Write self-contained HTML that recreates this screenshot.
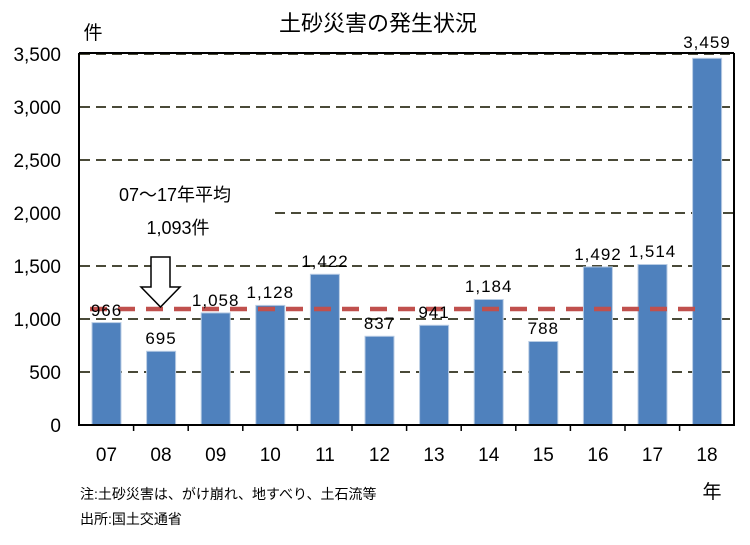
<!DOCTYPE html>
<html><head><meta charset="utf-8"><style>
body{margin:0;background:#fff}
text{font-family:"Liberation Sans","Noto Sans CJK JP",sans-serif;fill:#000}
</style></head><body>
<svg width="750" height="540" viewBox="0 0 750 540" xmlns="http://www.w3.org/2000/svg">
<rect width="750" height="540" fill="#fff"/>
<text x="378" y="31" font-size="22" text-anchor="middle">土砂災害の発生状況</text>
<text x="93" y="39" font-size="19" text-anchor="middle">件</text>
<g stroke="#4a4a38" stroke-width="2" stroke-dasharray="10,6">
<line x1="80" y1="54" x2="734" y2="54"/>
<line x1="80" y1="107" x2="734" y2="107"/>
<line x1="80" y1="160" x2="734" y2="160"/>
<line x1="275" y1="213" x2="734" y2="213"/>
<line x1="80" y1="266" x2="734" y2="266"/>
<line x1="80" y1="319" x2="734" y2="319"/>
<line x1="80" y1="372" x2="734" y2="372"/>
</g>
<g fill="#4f81bd" stroke="#b8cce4" stroke-width="1">
<rect x="92" y="322.6" width="29" height="102.4"/>
<rect x="146.6" y="351.3" width="29" height="73.7"/>
<rect x="201.2" y="312.9" width="29" height="112.1"/>
<rect x="255.8" y="305.4" width="29" height="119.6"/>
<rect x="310.4" y="274.3" width="29" height="150.7"/>
<rect x="365" y="336.3" width="29" height="88.7"/>
<rect x="419.6" y="325.3" width="29" height="99.7"/>
<rect x="474.2" y="299.5" width="29" height="125.5"/>
<rect x="528.8" y="341.5" width="29" height="83.5"/>
<rect x="583.4" y="266.9" width="29" height="158.1"/>
<rect x="638" y="264.5" width="29" height="160.5"/>
<rect x="692.6" y="58.3" width="29" height="366.7"/>
</g>
<line x1="90" y1="309" x2="705" y2="309" stroke="#c0504d" stroke-width="4.5" stroke-dasharray="17,11"/>
<polygon points="151,257 170,257 170,287 180,287 160.5,307 141,287 151,287" fill="#fff" stroke="#000" stroke-width="1.5"/>
<text x="175" y="201" font-size="18" text-anchor="middle">07～17年平均</text>
<text x="178" y="234" font-size="18" text-anchor="middle">1,093件</text>
<g stroke="#000" stroke-width="2" fill="none">
<line x1="79" y1="53" x2="79" y2="426"/>
<line x1="78" y1="425" x2="735" y2="425"/>
<line x1="734" y1="53" x2="734" y2="426"/>
<line x1="79" y1="53" x2="734" y2="53"/>
</g>
<g stroke="#000" stroke-width="1.5">
<line x1="133.6" y1="425" x2="133.6" y2="431"/><line x1="188.2" y1="425" x2="188.2" y2="431"/>
<line x1="242.8" y1="425" x2="242.8" y2="431"/><line x1="297.4" y1="425" x2="297.4" y2="431"/>
<line x1="352" y1="425" x2="352" y2="431"/><line x1="406.6" y1="425" x2="406.6" y2="431"/>
<line x1="461.2" y1="425" x2="461.2" y2="431"/><line x1="515.8" y1="425" x2="515.8" y2="431"/>
<line x1="570.4" y1="425" x2="570.4" y2="431"/><line x1="625" y1="425" x2="625" y2="431"/>
<line x1="679.6" y1="425" x2="679.6" y2="431"/>
</g>
<g font-size="19" text-anchor="end">
<text x="61" y="432">0</text><text x="61" y="379">500</text><text x="61" y="326">1,000</text>
<text x="61" y="273">1,500</text><text x="61" y="220">2,000</text><text x="61" y="167">2,500</text>
<text x="61" y="114">3,000</text><text x="61" y="61">3,500</text>
</g>
<g font-size="19" text-anchor="middle">
<text x="106.5" y="461">07</text><text x="161" y="461">08</text><text x="215.7" y="461">09</text>
<text x="270.3" y="461">10</text><text x="325" y="461">11</text><text x="379.5" y="461">12</text>
<text x="434" y="461">13</text><text x="488.7" y="461">14</text><text x="543.3" y="461">15</text>
<text x="598" y="461">16</text><text x="652.5" y="461">17</text><text x="707" y="461">18</text>
</g>
<g font-size="17" text-anchor="middle" letter-spacing="1">
<text x="106.5" y="316">966</text><text x="161" y="344">695</text><text x="215.7" y="306">1,058</text>
<text x="270.3" y="298">1,128</text><text x="325" y="267">1,422</text><text x="379.5" y="329">837</text>
<text x="434" y="318">941</text><text x="488.7" y="292">1,184</text><text x="543.3" y="334">788</text>
<text x="598" y="260">1,492</text><text x="652.5" y="257">1,514</text><text x="707" y="48">3,459</text>
</g>
<text x="712" y="498" font-size="19" text-anchor="middle">年</text>
<text x="80" y="499" font-size="14">注:土砂災害は、がけ崩れ、地すべり、土石流等</text>
<text x="80" y="524" font-size="14">出所:国土交通省</text>
</svg>
</body></html>
